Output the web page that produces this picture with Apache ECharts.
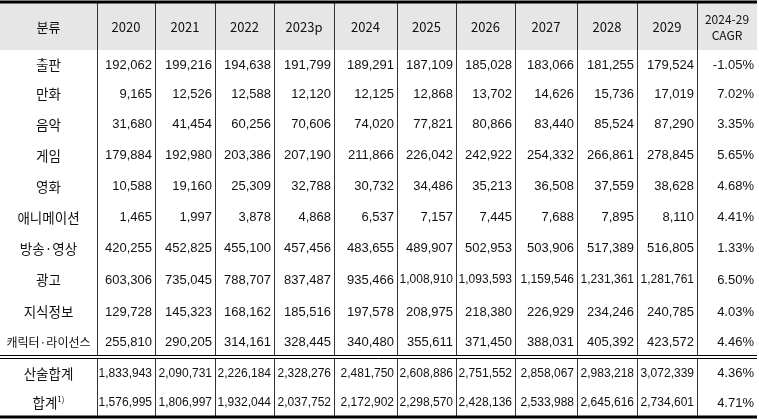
<!DOCTYPE html>
<html>
<head>
<meta charset="utf-8">
<script src="https://cdn.jsdelivr.net/npm/echarts@6/dist/echarts.min.js"></script>
<style>
  html, body { margin: 0; padding: 0; background: #fff; }
  #chart { width: 759px; height: 419px; }
</style>
</head>
<body>
<div id="chart"></div>
<script>
// 표 데이터
var headers    = ['분류', '2020', '2021', '2022', '2023p', '2024', '2025', '2026', '2027', '2028', '2029', '2024-29\nCAGR'];
var categories = ['출판', '만화', '음악', '게임', '영화', '애니메이션', '방송·영상', '광고', '지식정보', '캐릭터·라이선스', '산술합계', '합계'];
var v2020 = ['192,062', '9,165', '31,680', '179,884', '10,588', '1,465', '420,255', '603,306', '129,728', '255,810', '1,833,943', '1,576,995'];
var v2021 = ['199,216', '12,526', '41,454', '192,980', '19,160', '1,997', '452,825', '735,045', '145,323', '290,205', '2,090,731', '1,806,997'];
var v2022 = ['194,638', '12,588', '60,256', '203,386', '25,309', '3,878', '455,100', '788,707', '168,162', '314,161', '2,226,184', '1,932,044'];
var v2023 = ['191,799', '12,120', '70,606', '207,190', '32,788', '4,868', '457,456', '837,487', '185,516', '328,445', '2,328,276', '2,037,752'];
var v2024 = ['189,291', '12,125', '74,020', '211,866', '30,732', '6,537', '483,655', '935,466', '197,578', '340,480', '2,481,750', '2,172,902'];
var v2025 = ['187,109', '12,868', '77,821', '226,042', '34,486', '7,157', '489,907', '1,008,910', '208,975', '355,611', '2,608,886', '2,298,570'];
var v2026 = ['185,028', '13,702', '80,866', '242,922', '35,213', '7,445', '502,953', '1,093,593', '218,380', '371,450', '2,751,552', '2,428,136'];
var v2027 = ['183,066', '14,626', '83,440', '254,332', '36,508', '7,688', '503,906', '1,159,546', '226,929', '388,031', '2,858,067', '2,533,988'];
var v2028 = ['181,255', '15,736', '85,524', '266,861', '37,559', '7,895', '517,389', '1,231,361', '234,246', '405,392', '2,983,218', '2,645,616'];
var v2029 = ['179,524', '17,019', '87,290', '278,845', '38,628', '8,110', '516,805', '1,281,761', '240,785', '423,572', '3,072,339', '2,734,601'];
var cagr  = ['-1.05%', '7.02%', '3.35%', '5.65%', '4.68%', '4.41%', '1.33%', '6.50%', '4.03%', '4.46%', '4.36%', '4.71%'];

// 레이아웃 (픽셀 단위 눈금)
var colEdges = [0, 97, 155, 215, 274, 334, 397, 456, 515, 577, 637, 697, 757];
var rowEdges = [3, 50, 78, 108, 139, 170, 201, 232, 263, 295, 327, 355, 387, 417];
var FONT = '"Noto Sans CJK KR", "Noto Sans", sans-serif';
var NUMFONT = '"Liberation Sans", Arial, sans-serif';

var columns = [categories, v2020, v2021, v2022, v2023, v2024, v2025, v2026, v2027, v2028, v2029, cagr];
var cells = [];
for (var c = 0; c < headers.length; c++) {
  cells.push([c, 0, headers[c]]);
  for (var r = 0; r < categories.length; r++) {
    cells.push([c, r + 1, columns[c][r]]);
  }
}

function cellFont(c, r, text) {
  if (r === 0) return (c === 11 ? '12px ' : '13px ') + FONT;
  if (c === 0) return (r === 10 ? '12px ' : '13.5px ') + FONT;
  return (text.length > 7 ? '12px ' : '13px ') + NUMFONT;
}

function renderCell(params, api) {
  var c = api.value(0), r = api.value(1);
  var text = cells[params.dataIndex][2];
  var top = rowEdges[r];
  if (r === 11) top = 358;  // 이중선 아래
  var p0 = api.coord([colEdges[c], top]);
  var p1 = api.coord([colEdges[c + 1], rowEdges[r + 1]]);
  var w = p1[0] - p0[0], h = p1[1] - p0[1];
  var header = r === 0;
  var children = [{
    type: 'rect',
    shape: { x: p0[0], y: p0[1], width: w, height: h },
    style: { fill: header ? '#e7e6e6' : '#fff' }
  }];
  // 세로선
  if (c > 0) {
    children.push({ type: 'line', shape: { x1: p0[0] + 0.5, y1: p0[1], x2: p0[0] + 0.5, y2: p1[1] },
      style: { stroke: '#333', lineWidth: 1 } });
  }
  // 가로선 (아래)
  children.push({ type: 'line', shape: { x1: p0[0], y1: p1[1] + 0.5, x2: p1[0], y2: p1[1] + 0.5 },
    style: { stroke: '#333', lineWidth: 1 } });
  var center = header || c === 0;
  var isTotal = (r === 12 && c === 0);
  children.push({
    type: 'text',
    style: {
      text: isTotal ? '합계{sup|1)}' : text,
      x: center ? p0[0] + w / 2 : p1[0] - 3,
      y: p0[1] + h / 2 + 1,
      align: center ? 'center' : 'right',
      verticalAlign: 'middle',
      fill: '#111',
      font: cellFont(c, r, text),
      lineHeight: 16,
      rich: { sup: { fontSize: 8, verticalAlign: 'top', padding: [0, 0, 6, 0], fontFamily: FONT, fill: '#111' } }
    }
  });
  return { type: 'group', children: children };
}

var myChart = echarts.init(document.getElementById('chart'));
myChart.setOption({
  animation: false,
  grid: { left: 0, right: 0, top: 0, bottom: 0 },
  xAxis: { type: 'value', min: 0, max: 759, show: false },
  yAxis: { type: 'value', min: 0, max: 419, inverse: true, show: false },
  series: [
    {
      type: 'custom',
      renderItem: renderCell,
      data: cells.map(function (d) { return [d[0], d[1]]; })
    },
    {
      type: 'custom',
      // 굵은 선과 이중선
      renderItem: function (params, api) {
        var y = api.value(0), lw = api.value(1);
        var a = api.coord([0, y]), b = api.coord([757, y]);
        return { type: 'line', shape: { x1: a[0], y1: a[1], x2: b[0], y2: b[1] },
          style: { stroke: '#000', lineWidth: lw } };
      },
      data: [[2, 3], [355.5, 1], [358.5, 1], [417, 3]],
      z: 3
    }
  ]
});
</script>
</body>
</html>
